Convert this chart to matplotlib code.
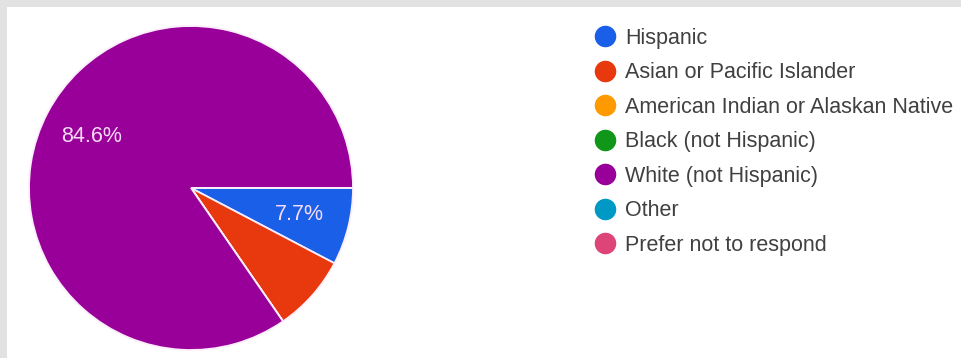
import matplotlib
matplotlib.use("Agg")
import matplotlib.pyplot as plt
import numpy as np
from matplotlib.lines import Line2D
from matplotlib.patches import Rectangle

plt.rcParams['font.family'] = ['Liberation Sans', 'DejaVu Sans']

# survey answers (counts of respondents)
categories = ["Hispanic", "Asian or Pacific Islander", "American Indian or Alaskan Native",
              "Black (not Hispanic)", "White (not Hispanic)", "Other", "Prefer not to respond"]
counts = [1, 1, 0, 0, 11, 0, 0]
colors = ["#1a5fe8", "#e8390e", "#ff9900", "#109618", "#990099", "#0099c6", "#dd4477"]
# only these slices get a percentage printed on them
show_pct = [True, False, False, False, True, False, False]

W, H = 962, 358
fig = plt.figure(figsize=(W / 100, H / 100), dpi=100)
fig.patch.set_facecolor("#e2e2e2")
fig.add_artist(Rectangle((7 / W, 0), 1, 1 - 7 / H, transform=fig.transFigure,
                         facecolor="white", edgecolor="none", zorder=0))

# pie centre (191, 188) px, radius 162 px
cx, cy, r = 191, 188, 162
ax = fig.add_axes([(cx - r) / W, (H - cy - r) / H, 2 * r / W, 2 * r / H])
total = sum(counts)
wedges, _ = ax.pie(counts, colors=colors, startangle=0, counterclock=False,
                   wedgeprops=dict(edgecolor="#fbeefb", linewidth=1.3))
ax.set_xlim(-1, 1)
ax.set_ylim(-1, 1)
ax.set_aspect("equal")

for w, n, show in zip(wedges, counts, show_pct):
    if not show or n == 0:
        continue
    mid = np.deg2rad((w.theta1 + w.theta2) / 2)
    d = 0.69
    ax.text(d * np.cos(mid), d * np.sin(mid), "%.1f%%" % (100 * n / total),
            ha="center", va="center", color="#f6dcf6", fontsize=15.5)

handles = [Line2D([], [], marker="o", ls="", color=c, markersize=14.5) for c in colors]
fig.legend(handles, categories, loc="upper left", bbox_to_anchor=(592 / W, 1 - 28 / H),
           frameon=False, fontsize=15.5, labelspacing=0.625, handletextpad=0.33,
           borderaxespad=0, borderpad=0, handlelength=1.21, labelcolor="#404040")

fig.savefig("out.png", dpi=100, facecolor=fig.get_facecolor())
